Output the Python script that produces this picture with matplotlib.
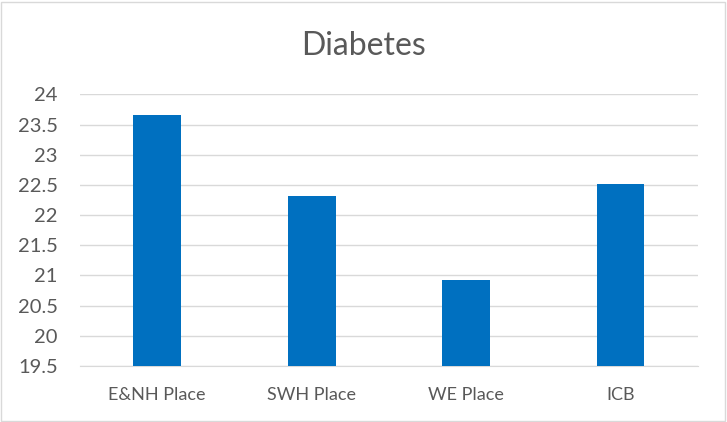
import matplotlib.pyplot as plt

# data
categories = ["E&NH Place", "SWH Place", "WE Place", "ICB"]
values = [23.65, 22.31, 20.93, 22.52]
yticks = [19.5, 20, 20.5, 21, 21.5, 22, 22.5, 23, 23.5, 24]
ytick_labels = ["19.5", "20", "20.5", "21", "21.5", "22", "22.5", "23", "23.5", "24"]

plt.rcParams['font.family'] = ['Lato', 'DejaVu Sans']
text_col = "#595959"

fig = plt.figure(figsize=(7.27, 4.22), dpi=100)
ax = fig.add_axes([0.110, 0.1327, 0.8497, 0.6438])

x = range(len(categories))
ax.bar(x, values, width=0.31, color="#0070C0", zorder=3)

ax.set_ylim(19.5, 24)
ax.set_xlim(-0.5, len(categories) - 0.5)
ax.set_yticks(yticks)
ax.set_yticklabels(ytick_labels)
ax.set_xticks(list(x))
ax.set_xticklabels(categories)
ax.tick_params(axis="both", length=0, colors=text_col)
ax.tick_params(axis="x", pad=15, labelsize=13)
ax.tick_params(axis="y", pad=16, labelsize=14.5)

ax.grid(axis="y", color="#D9D9D9", linewidth=1, zorder=0)
for s in ["top", "right", "left"]:
    ax.spines[s].set_visible(False)
ax.spines["bottom"].set_color("#D9D9D9")

fig.text(0.5, 0.89, "Diabetes", ha="center", va="center", fontsize=23, color=text_col)

# light border around the chart
fig.patches.append(plt.Rectangle((0.002, 0.003), 0.995, 0.993, transform=fig.transFigure,
                                 fill=False, edgecolor="#D9D9D9", linewidth=1))

fig.savefig("out.png", dpi=100)
